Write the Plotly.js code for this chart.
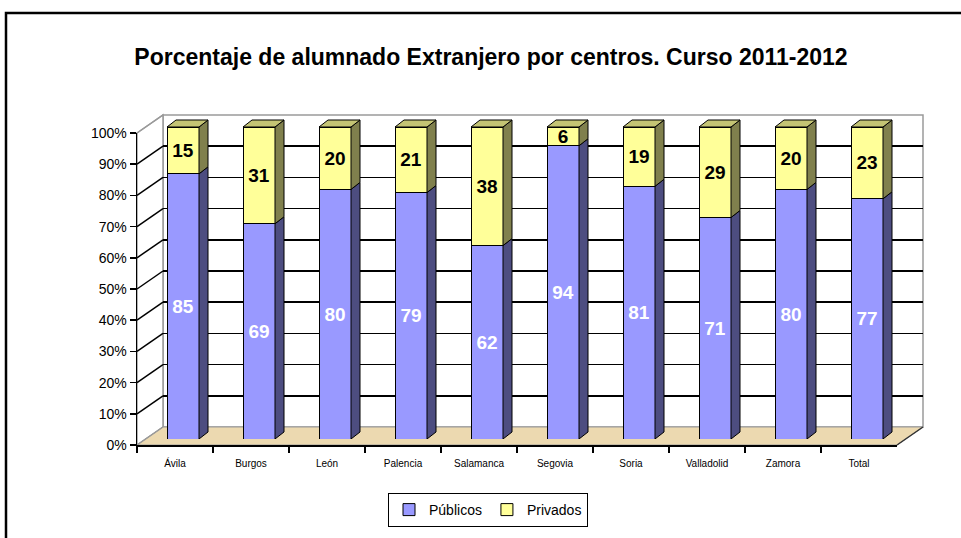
<!DOCTYPE html>
<html>
<head>
<meta charset="utf-8">
<script src="https://cdn.plot.ly/plotly-3.0.1.min.js"></script>
<style>html,body{margin:0;padding:0;background:#fff;}#chart{width:961px;height:538px;}</style>
</head>
<body>
<div id="chart"></div>
<script>
// ---- data ----
const categories = ['Ávila','Burgos','León','Palencia','Salamanca','Segovia','Soria','Valladolid','Zamora','Total'];
const publicos = [85,69,80,79,62,94,81,71,80,77];
const privados = [15,31,20,21,38,6,19,29,20,23];
const yTicks = [0,10,20,30,40,50,60,70,80,90,100];
const yTickText = yTicks.map(v => v + '%');
const seriesNames = ['Públicos','Privados'];

// ---- geometry (pixels) ----
const W = 961, H = 538;
const px = x => x / W;
const py = y => 1 - y / H;
const FX0 = 137, FX1 = 897, FY0 = 445, FY1 = 133;   // front plane
const DX = 26, DY = -18;                             // depth of the box
const BX = 8, BY = -6;                               // plane of the bars
const pxPerUnit = (FY0 - FY1) / 100;
const yf = v => FY0 - v * pxPerUnit;
const FONT = 'Liberation Sans, Arial, sans-serif';

const shapes = [];
// back wall
shapes.push({type:'rect', xref:'paper', yref:'paper', layer:'below',
  x0:px(FX0+DX), x1:px(FX1+DX), y0:py(FY0+DY), y1:py(FY1+DY),
  fillcolor:'#ffffff', line:{color:'#9a9a9a', width:1.5}});
// left wall
const P = (x,y) => px(x).toFixed(5) + ',' + py(y).toFixed(5);
shapes.push({type:'path', xref:'paper', yref:'paper', layer:'below',
  path:`M${P(FX0,FY1)} L${P(FX0+DX,FY1+DY)} L${P(FX0+DX,FY0+DY)} L${P(FX0,FY0)} Z`,
  fillcolor:'#ffffff', line:{color:'#9a9a9a', width:1.5}});
// floor
shapes.push({type:'path', xref:'paper', yref:'paper', layer:'below',
  path:`M${P(FX0,FY0)} L${P(FX1,FY0)} L${P(FX1+DX,FY0+DY)} L${P(FX0+DX,FY0+DY)} Z`,
  fillcolor:'#ecd9b0', line:{color:'#9a9a9a', width:1}});
shapes.push({type:'line', xref:'paper', yref:'paper', layer:'below',
  x0:px(FX1), y0:py(FY0), x1:px(FX1+DX), y1:py(FY0+DY), line:{color:'#333', width:1.5}});
// diagonals on left wall
yTicks.forEach(v => {
  const edge = (v === 0 || v === 100);
  shapes.push({type:'line', xref:'paper', yref:'paper', layer:'below',
    x0:px(FX0), y0:py(yf(v)), x1:px(FX0+DX), y1:py(yf(v)+DY),
    line:{color: edge ? '#9a9a9a' : '#000000', width: 1.5}});
});

// 3D faces of bars
const d = 7 / pxPerUnit;
const half = 16, depth = 9;
categories.forEach((c, i) => {
  const pub = publicos[i], tot = publicos[i] + privados[i];
  shapes.push({type:'path', xref:'x3', yref:'y3', xsizemode:'pixel', xanchor:i, layer:'above',
    path:`M${half},0 L${half+depth},${d} L${half+depth},${pub+d} L${half},${pub} Z`,
    fillcolor:'#4d4d80', line:{color:'#000', width:1}});
  shapes.push({type:'path', xref:'x3', yref:'y3', xsizemode:'pixel', xanchor:i, layer:'above',
    path:`M${half},${pub} L${half+depth},${pub+d} L${half+depth},${tot+d} L${half},${tot} Z`,
    fillcolor:'#80804d', line:{color:'#000', width:1}});
  shapes.push({type:'path', xref:'x3', yref:'y3', xsizemode:'pixel', xanchor:i, layer:'above',
    path:`M${-half},${tot} L${half},${tot} L${half+depth},${tot+d} L${-half+depth},${tot+d} Z`,
    fillcolor:'#c4c474', line:{color:'#000', width:1}});
});

// outer frame
shapes.push({type:'rect', xref:'paper', yref:'paper', layer:'above',
  x0:px(6), x1:1.1, y0:-0.1, y1:py(13), line:{color:'#000', width:2.5}, fillcolor:'rgba(0,0,0,0)'});

const yTopBars = 105;
const traces = [
  // back wall gridlines subplot
  {type:'scatter', x:[0.5], y:[50], xaxis:'x', yaxis:'y', mode:'markers',
   marker:{opacity:0}, hoverinfo:'skip', showlegend:false},
  // front axes subplot
  {type:'scatter', x:categories, y:categories.map(() => 0), xaxis:'x2', yaxis:'y2', mode:'markers',
   marker:{opacity:0}, hoverinfo:'skip', showlegend:false},
  // bars
  {type:'bar', name:seriesNames[0], x:categories, y:publicos, xaxis:'x3', yaxis:'y3',
   width:0.421, marker:{color:'#9999ff', line:{color:'#000', width:1}},
   texttemplate:'%{y}', textposition:'inside', insidetextanchor:'middle', textangle:0,
   textfont:{family:FONT, size:19, color:'#ffffff', weight:'bold'}, hoverinfo:'skip'},
  {type:'bar', name:seriesNames[1], x:categories, y:privados, xaxis:'x3', yaxis:'y3',
   width:0.421, marker:{color:'#ffff99', line:{color:'#000', width:1}},
   texttemplate:'%{y}', textposition:'inside', insidetextanchor:'middle', textangle:0,
   textfont:{family:FONT, size:19, color:'#000000', weight:'bold'}, hoverinfo:'skip'}
];

const layout = {
  width:W, height:H,
  margin:{l:0, r:0, t:0, b:0},
  paper_bgcolor:'#ffffff', plot_bgcolor:'rgba(0,0,0,0)',
  font:{family:FONT, color:'#000'},
  showlegend:true,
  barmode:'stack',
  uniformtext:{mode:false},
  title:{text:'Porcentaje de alumnado Extranjero por centros. Curso 2011-2012',
    x:px(491), xanchor:'center', y:py(57), yanchor:'middle',
    font:{family:FONT, size:23, weight:'bold', color:'#000'}},
  xaxis:{domain:[px(FX0+DX), px(FX1+DX)], range:[0,1], anchor:'y', visible:false, fixedrange:true},
  yaxis:{domain:[py(FY0+DY), py(FY1+DY)], range:[0,100], anchor:'x',
    tickvals:yTicks.filter(v => v > 0 && v < 100), showticklabels:false, ticks:'',
    showgrid:true, gridcolor:'#000000', gridwidth:1.5, zeroline:false, showline:false, fixedrange:true},
  xaxis2:{domain:[px(FX0), px(FX1)], anchor:'y2', type:'category', range:[-0.5,9.5],
    tickson:'boundaries', ticks:'outside', ticklen:6, tickcolor:'#000', tickwidth:1.5,
    showline:true, linecolor:'#000', linewidth:1.5, showgrid:false, zeroline:false,
    ticklabelstandoff:8,
    tickfont:{family:FONT, size:10, color:'#000'}, fixedrange:true},
  yaxis2:{domain:[py(FY0), py(FY1)], anchor:'x2', range:[0,100],
    tickvals:yTicks, ticktext:yTickText, ticks:'outside', ticklen:6, tickcolor:'#000', tickwidth:1.5,
    showline:true, linecolor:'#000', linewidth:1.5, showgrid:false, zeroline:false,
    tickfont:{family:FONT, size:14, color:'#000'}, fixedrange:true},
  xaxis3:{domain:[px(FX0+BX), px(FX1+BX)], anchor:'y3', type:'category', range:[-0.5,9.5],
    visible:false, fixedrange:true},
  yaxis3:{domain:[py(FY0+BY), py(FY0+BY - yTopBars*pxPerUnit)], anchor:'x3', range:[0,yTopBars],
    visible:false, fixedrange:true},
  legend:{orientation:'h', x:px(488), xanchor:'center', y:py(510), yanchor:'middle',
    bordercolor:'#000', borderwidth:1, bgcolor:'#ffffff',
    font:{family:FONT, size:14, color:'#000'}, itemwidth:30, traceorder:'normal'},
  shapes:shapes
};
layout.barmode = 'stack';
layout.constraintext = 'none';
traces[2].constraintext = 'none';
traces[3].constraintext = 'none';

Plotly.newPlot('chart', traces, layout, {displayModeBar:false, staticPlot:true});
</script>
</body>
</html>
